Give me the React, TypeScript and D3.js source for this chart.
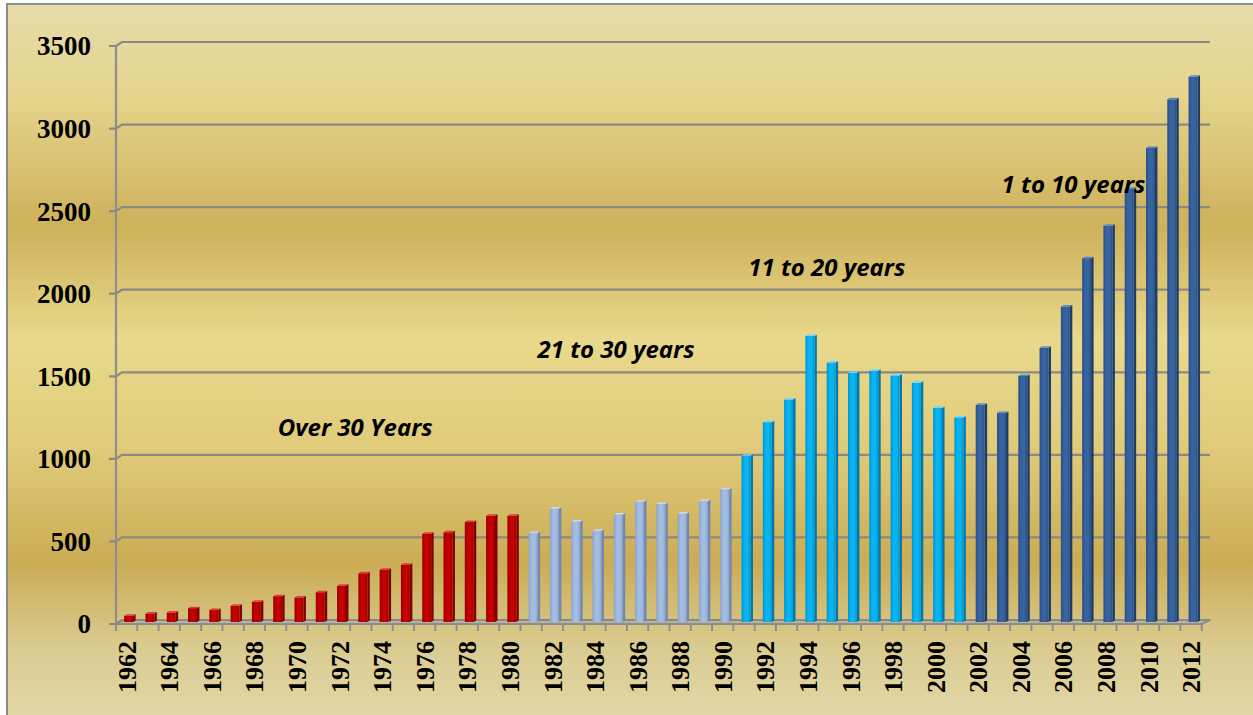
import * as d3 from "d3";

const W = 1253;
const H = 715;

// years on the x axis, one bar per year
const years = d3.range(1962, 2013);

// bar heights by age group
const over30 = [38, 52, 58, 84, 72, 98, 122, 156, 148, 180, 220, 295, 317, 347, 535, 543, 605, 643, 643];
const from21to30 = [539, 687, 609, 553, 651, 729, 714, 657, 732, 804];
const from11to20 = [1006, 1210, 1347, 1732, 1571, 1508, 1521, 1493, 1449, 1296, 1239];
const from1to10 = [1315, 1265, 1490, 1660, 1910, 2203, 2399, 2624, 2870, 3165, 3301];

const yTicks = [0, 500, 1000, 1500, 2000, 2500, 3000, 3500];

const groups = [
  { values: over30, front: "#c40000", side: "#7e0000", top: "#e23a3a", edge: "#9a0000" },
  { values: from21to30, front: "#a3bce3", side: "#7189b0", top: "#c8d8f2", edge: "#8aa3cc" },
  { values: from11to20, front: "#08b4f2", side: "#0079aa", top: "#6fd5ff", edge: "#0095cf" },
  { values: from1to10, front: "#3763a0", side: "#1e3c66", top: "#5c86c0", edge: "#2a4f84" },
];

// text notes: [label, year position, value position]
const notes: [string, number, number][] = [
  ["Over 30 Years", 1969.6, 1138],
  ["21 to 30 years", 1981.8, 1611],
  ["11 to 20 years", 1991.7, 2107],
  ["1 to 10 years", 2003.6, 2610],
];

const bars = groups.flatMap((g) => g.values.map((v) => ({ v, g })));
const data = years.map((yr, i) => ({ yr, ...bars[i] }));

// front plane scales; the back wall sits (dx, dy) behind it
const dx = 6;
const dy = -4;
const x = d3.scaleBand<number>().domain(years).range([116, 1201.7]).paddingInner(0.58).paddingOuter(0.29);
const xi = d3.scaleLinear().domain([1962, 2013]).range([116, 1201.7]);
const y = d3.scaleLinear().domain([0, 3500]).range([624, 46]);

const serif = "'Liberation Serif', 'Times New Roman', serif";

export default function App() {
  const bw = x.bandwidth();
  const d = 2.5; // bar depth
  const base = y(0) - 2;
  const bounds = d3.range(years.length + 1).map((i) => xi(1962 + i));

  return (
    <svg width={W} height={H} style={{ position: "absolute", left: 0, top: 0, display: "block" }}>
      <defs>
        <linearGradient id="bg" x1="0" y1="0" x2="0" y2="1">
          <stop offset="0" stopColor="#e6dcab" />
          <stop offset="0.13" stopColor="#e5d48c" />
          <stop offset="0.31" stopColor="#ceb15b" />
          <stop offset="0.47" stopColor="#e9d98c" />
          <stop offset="0.62" stopColor="#e0cb7a" />
          <stop offset="0.78" stopColor="#cbac55" />
          <stop offset="0.9" stopColor="#dacb90" />
          <stop offset="1" stopColor="#e2d7a8" />
        </linearGradient>
        {groups.map((g, i) => (
          <linearGradient key={i} id={`bar${i}`} x1="0" y1="0" x2="1" y2="0">
            <stop offset="0" stopColor={g.edge} />
            <stop offset="0.35" stopColor={g.front} />
            <stop offset="0.7" stopColor={g.front} />
            <stop offset="1" stopColor={g.edge} />
          </linearGradient>
        ))}
      </defs>

      <rect x={7} y={4} width={W} height={H} fill="url(#bg)" stroke="#8c8c8c" strokeWidth={2} />

      {/* floor */}
      <path
        d={`M116,${y(0)} L${122},${y(0) + dy} L${1201.7 + dx + 2},${y(0) + dy} L1201.7,${y(0)} Z`}
        fill="#b9b29c"
        stroke="#8e8e8e"
        strokeWidth={2}
        strokeLinejoin="round"
      />

      {/* gridlines on the back wall, with the short ticks on the front axis */}
      {yTicks.map((t) => (
        <path
          key={t}
          d={`M109,${y(t)} L116,${y(t)} L${116 + dx},${y(t) + dy} L1210,${y(t) + dy}`}
          fill="none"
          stroke="#8a8a82"
          strokeWidth={2.2}
        />
      ))}
      <line x1={116} x2={116} y1={y(3500)} y2={y(0)} stroke="#8e8e8e" strokeWidth={2.2} />

      {/* x ticks */}
      {bounds.map((b, i) => (
        <line key={i} x1={b} x2={b} y1={y(0)} y2={y(0) + 7} stroke="#8e8e8e" strokeWidth={2} />
      ))}

      {/* bars */}
      {data.map((r) => {
        const gi = groups.indexOf(r.g);
        const x0 = (x(r.yr) ?? 0) + 2;
        const yt = y(r.v) - 2;
        return (
          <g key={r.yr}>
            <path
              d={`M${x0 + bw},${yt} L${x0 + bw + d},${yt - 1.5} L${x0 + bw + d},${base - 1.5} L${x0 + bw},${base} Z`}
              fill={r.g.side}
            />
            <rect x={x0} y={yt} width={bw} height={base - yt} fill={`url(#bar${gi})`} />
            <path
              d={`M${x0},${yt} L${x0 + d},${yt - 1.5} L${x0 + bw + d},${yt - 1.5} L${x0 + bw},${yt} Z`}
              fill={r.g.top}
            />
          </g>
        );
      })}

      {/* y labels */}
      {yTicks.map((t) => (
        <text
          key={t}
          x={91}
          y={y(t)}
          dy="0.35em"
          textAnchor="end"
          fontFamily={serif}
          fontWeight="bold"
          fontSize={27}
          fill="#000"
        >
          {t}
        </text>
      ))}

      {/* x labels, every other year */}
      {years
        .filter((yr) => (yr - 1962) % 2 === 0)
        .map((yr) => (
          <text
            key={yr}
            transform={`translate(${(x(yr) ?? 0) + bw / 2},${641}) rotate(-90)`}
            dy="0.35em"
            textAnchor="end"
            fontFamily={serif}
            fontWeight="bold"
            fontSize={26}
            fill="#000"
          >
            {yr}
          </text>
        ))}

      {/* group notes */}
      {notes.map(([label, yr, v]) => (
        <text
          key={label}
          x={xi(yr)}
          y={y(v)}
          fontFamily="'Open Sans', Lato, sans-serif"
          fontStyle="italic"
          fontWeight="bold"
          fontSize={24}
          fill="#000"
        >
          {label}
        </text>
      ))}
    </svg>
  );
}
